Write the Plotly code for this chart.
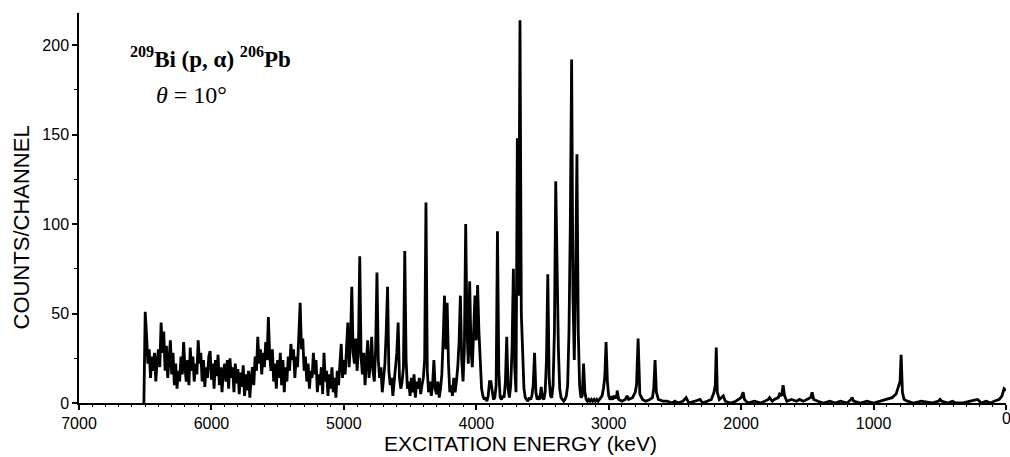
import plotly.graph_objects as go

# 209Bi(p,alpha)206Pb spectrum, theta = 10 deg.
# Channel contents for the busy part of the spectrum, 10 keV per channel,
# first channel at 6510 keV and running downward in energy.
busy_first_kev = 6510
busy_step_kev = 10
busy_counts = [
    0,
    51, 38, 22, 30, 14, 26, 18, 28, 12, 24,          # 6500-6410
    30, 20, 45, 28, 40, 18, 32, 14, 26, 35,          # 6400-6310
    16, 28, 10, 22, 8, 18, 12, 26, 16, 34,           # 6300-6210
    20, 12, 24, 10, 31, 18, 26, 12, 22, 16,          # 6200-6110
    35, 22, 28, 12, 24, 9, 20, 14, 26, 29,           # 6100-6010
    13, 22, 8, 24, 15, 27, 10, 20, 6, 18,            # 6000-5910
    22, 12, 24, 8, 25, 14, 20, 6, 22, 11,            # 5900-5810
    19, 5, 17, 9, 21, 4, 16, 7, 18, 3,               # 5800-5710
    14, 20, 10, 26, 18, 37, 22, 30, 16, 28,          # 5700-5610
    20, 34, 24, 48, 26, 18, 30, 12, 22, 8,           # 5600-5510
    24, 14, 28, 10, 24, 6, 20, 12, 26, 18,           # 5500-5410
    33, 24, 30, 14, 26, 20, 38, 56, 30, 36,          # 5400-5310
    18, 26, 12, 22, 8, 18, 14, 28, 16, 24,           # 5300-5210
    6, 16, 10, 20, 5, 28, 12, 18, 4, 16,             # 5200-5110
    8, 20, 6, 14, 3, 18, 10, 22, 33, 14,             # 5100-5010
    24, 16, 30, 45, 20, 34, 65, 28, 22, 36,          # 5000-4910
    18, 30, 82, 26, 16, 28, 10, 24, 35, 14,          # 4900-4810
    22, 37, 18, 12, 30, 73, 24, 14, 20, 6,           # 4800-4710
    16, 22, 40, 65, 18, 10, 14, 4, 12, 20,           # 4700-4610
    28, 45, 14, 8, 12, 20, 85, 24, 8, 12,            # 4600-4510
    4, 14, 6, 16, 3, 12, 8, 14, 5, 10,               # 4500-4410
    14, 24, 112, 18, 6, 12, 4, 10, 24, 8,            # 4400-4310
    5, 12, 3, 8, 16, 36, 60, 30, 56, 22,             # 4300-4210
    6, 10, 4, 14, 6, 12, 20, 34, 60, 24,             # 4200-4110
    12, 30, 100, 40, 22, 68, 30, 20, 45, 60,         # 4100-4010
    35, 66, 40, 20, 8, 4, 2, 3, 1, 4,                # 4000-3910
    12, 12, 6, 2, 3, 10, 96, 18, 3, 2,               # 3900-3810
    4, 3, 12, 37, 8, 3, 10, 30, 75, 20,              # 3800-3710
    6, 148, 60, 214, 50, 30, 8, 3, 2, 1,             # 3700-3610
    3, 2, 4, 10, 28, 6, 2, 3, 2, 9,                  # 3600-3510
    3, 2, 6, 24, 72, 14, 4, 3, 10, 40,               # 3500-3410
    124, 60, 30, 8, 3, 2, 1, 2, 4, 10,               # 3400-3310
    40, 100, 192, 60, 24, 70, 139, 40, 10, 3,        # 3300-3210
    4, 22, 6, 2, 1, 2, 1, 2, 1, 2,                   # 3200-3110
    1, 2, 1, 2, 3, 4, 8, 14, 34, 12,                 # 3100-3010
    4, 2, 3, 2, 4, 3,                                # 3000-2950
]

# Quieter low-energy end: baseline readings and the isolated peaks.
quiet_kev = [
    2940, 2936, 2925, 2900, 2875, 2861, 2850, 2820, 2800, 2790, 2778, 2765,
    2745, 2720, 2690, 2670, 2660, 2650, 2640, 2625, 2590, 2560, 2520, 2500,
    2480, 2440, 2415, 2395, 2350, 2310, 2290, 2250, 2225, 2205, 2195, 2188,
    2180, 2165, 2150, 2135, 2120, 2080, 2040, 2020, 2000, 1985, 1975, 1950,
    1900, 1850, 1795, 1785, 1765, 1750, 1720, 1710, 1695, 1683, 1672, 1655,
    1620, 1580, 1560, 1530, 1500, 1475, 1464, 1452, 1420, 1380, 1330, 1290,
    1250, 1200, 1170, 1162, 1150, 1100, 1050, 1000, 950, 900, 860, 830,
    812, 800, 792, 782, 770, 745, 700, 640, 560, 510, 498, 485, 440, 405,
    380, 330, 270, 215, 200, 190, 150, 115, 90, 50, 30, 15, 0,
]
quiet_counts = [
    3, 7, 2, 1, 2, 4, 2, 3, 6, 10, 36, 5,
    2, 1, 2, 3, 8, 24, 6, 2, 1, 1, 0, 1,
    0, 1, 3, 0, 1, 2, 0, 1, 2, 6, 10, 31,
    6, 2, 3, 4, 1, 0, 1, 2, 3, 6, 2, 0,
    1, 0, 2, 3, 1, 2, 3, 5, 4, 10, 4, 1,
    2, 1, 2, 1, 2, 3, 6, 2, 1, 0, 1, 0,
    1, 0, 2, 3, 1, 0, 1, 0, 1, 2, 3, 5,
    9, 12, 27, 6, 2, 1, 0, 1, 0, 1, 2, 1,
    0, 1, 0, 0, 1, 2, 1, 0, 1, 0, 1, 2,
    4, 8, 7,
]

busy_kev = [busy_first_kev - i * busy_step_kev for i in range(len(busy_counts))]
energy_kev = busy_kev + quiet_kev
counts = busy_counts + quiet_counts

x_ticks = [7000, 6000, 5000, 4000, 3000, 2000, 1000, 0]
y_ticks = [0, 50, 100, 150, 200]

fig = go.Figure(
    go.Scatter(
        x=energy_kev,
        y=counts,
        mode="lines",
        line=dict(color="black", width=2.8),
        hoverinfo="skip",
    )
)

sans = "Liberation Sans, Arial, sans-serif"
serif = "Liberation Serif, Times New Roman, serif"
tick_font = dict(family=sans, size=16, color="black")
title_font = dict(family=sans, size=21, color="black")

fig.update_xaxes(
    range=[7000, 0],
    tickvals=x_ticks,
    ticktext=[str(v) for v in x_ticks],
    ticks="outside",
    ticklen=5,
    tickwidth=1.5,
    tickcolor="black",
    minor=dict(dtick=100, ticks="outside", ticklen=2, tickwidth=1, tickcolor="black"),
    showline=True,
    linecolor="black",
    linewidth=1.5,
    showgrid=False,
    zeroline=False,
    tickfont=tick_font,
)
fig.update_yaxes(
    range=[0, 218],
    tickvals=y_ticks,
    ticks="outside",
    ticklen=5,
    tickwidth=1.5,
    tickcolor="black",
    minor=dict(dtick=25, ticks="outside", ticklen=3, tickwidth=1, tickcolor="black"),
    showline=True,
    linecolor="black",
    linewidth=1.5,
    showgrid=False,
    zeroline=False,
    tickfont=tick_font,
)

# The last x tick label sits on the right edge of the page; draw it explicitly
# so it is not dropped by the automatic label culling.
fig.add_annotation(
    text=str(x_ticks[-1]),
    xref="x", yref="paper", x=x_ticks[-1], y=-0.014,
    showarrow=False, font=tick_font,
    xanchor="center", yanchor="top",
)

fig.add_annotation(
    text="COUNTS/CHANNEL",
    xref="paper", yref="paper", x=-0.0615, y=0.45,
    textangle=-90, showarrow=False, font=dict(family=sans, size=22, color="black"),
    xanchor="center", yanchor="middle",
)
fig.add_annotation(
    text="EXCITATION ENERGY (keV)",
    xref="paper", yref="paper", x=0.476, y=-0.105,
    showarrow=False, font=title_font,
    xanchor="center", yanchor="middle",
)
fig.add_annotation(
    text=("<sup><b>209</b></sup><b>Bi (p, α) </b><sup><b>206</b></sup><b>Pb</b>"),
    xref="paper", yref="paper", x=0.142, y=0.887,
    showarrow=False,
    font=dict(family=serif, size=23, color="black"),
    xanchor="center", yanchor="middle",
)
fig.add_annotation(
    text="<i>θ</i> = 10°",
    xref="paper", yref="paper", x=0.121, y=0.79,
    showarrow=False,
    font=dict(family=serif, size=24, color="black"),
    xanchor="center", yanchor="middle",
)

fig.update_layout(
    width=1010,
    height=457,
    margin=dict(l=79, r=4, t=13, b=54),
    paper_bgcolor="white",
    plot_bgcolor="white",
    showlegend=False,
)

fig.write_html("out.html")
